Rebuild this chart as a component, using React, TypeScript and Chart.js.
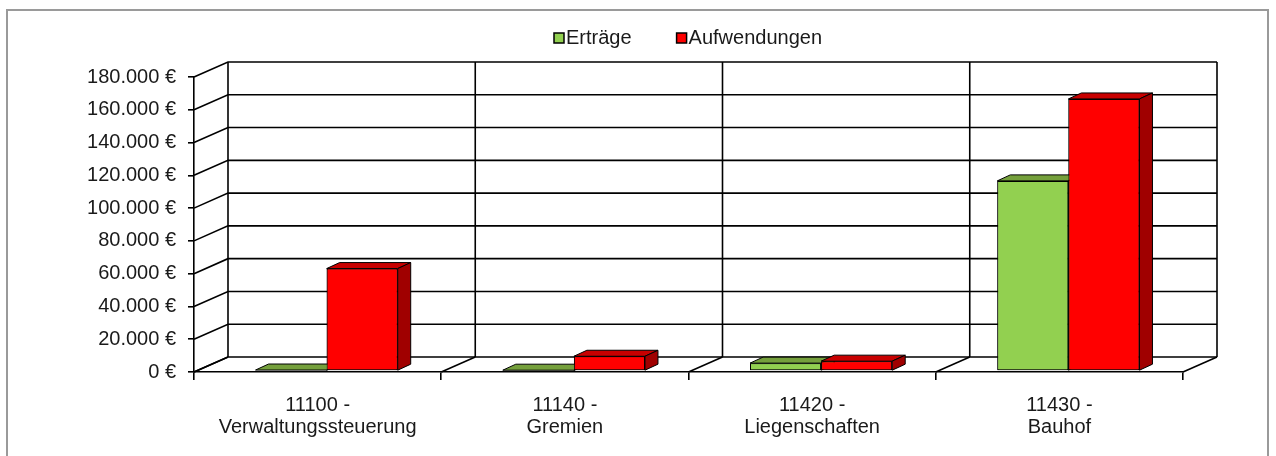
import React, { useEffect, useRef } from "react";
import { Chart, registerables } from "chart.js";

Chart.register(...registerables);

// ---- data ----
const categories: string[][] = [
  ["11100 -", "Verwaltungssteuerung"],
  ["11140 -", "Gremien"],
  ["11420 -", "Liegenschaften"],
  ["11430 -", "Bauhof"],
];
const seriesNames = ["Erträge", "Aufwendungen"];
const ertraege = [600, 300, 4800, 116000];
const aufwendungen = [62500, 9000, 6000, 166000];
const yMin = 0;
const yMax = 180000;
const yStep = 20000;

// ---- styles ----
const frontColors = ["#92D050", "#FF0000"];
const topColors = ["#75A03C", "#C80000"];
const sideColors = ["#5E8A2E", "#A00000"];
const FONT = "'Liberation Sans', Arial, sans-serif";
const WALL_DX = 34;
const WALL_DY = 15;
const BAR_DX = 13;
const BAR_DY = 6;
// bars sit slightly inside the 3D floor (depth position)
const BAR_SHIFT_X = 9;
const BAR_SHIFT_Y = -1;

const fmtEuro = (v: number) =>
  String(v).replace(/\B(?=(\d{3})+(?!\d))/g, ".") + " €";

const depthPlugin = {
  id: "depth3d",
  beforeDatasetsDraw(chart: any) {
    const { ctx, chartArea, scales } = chart;
    const { left, right, top, bottom } = chartArea;
    const x = scales.x;
    const y = scales.y;
    ctx.save();
    ctx.strokeStyle = "#000";
    ctx.lineWidth = 1.6;
    y.ticks.forEach((t: any) => {
      const py = y.getPixelForValue(t.value);
      ctx.beginPath();
      ctx.moveTo(left, py);
      ctx.lineTo(left + WALL_DX, py - WALL_DY);
      ctx.lineTo(right + WALL_DX, py - WALL_DY);
      ctx.stroke();
    });
    const n = categories.length;
    for (let i = 0; i <= n; i++) {
      const bx = x.getPixelForValue(i - 0.5);
      ctx.beginPath();
      ctx.moveTo(bx + WALL_DX, top - WALL_DY);
      ctx.lineTo(bx + WALL_DX, bottom - WALL_DY);
      ctx.stroke();
      ctx.beginPath();
      ctx.moveTo(bx, bottom);
      ctx.lineTo(bx + WALL_DX, bottom - WALL_DY);
      ctx.stroke();
    }
    ctx.restore();
    // place bars at their depth position
    ctx.save();
    ctx.translate(BAR_SHIFT_X, BAR_SHIFT_Y);
  },
  afterDatasetsDraw(chart: any) {
    const { ctx, chartArea } = chart;
    chart.data.datasets.forEach((_ds: any, idx: number) => {
      const meta = chart.getDatasetMeta(idx);
      meta.data.forEach((el: any) => {
        // redraw the front face so that series are layered left to right
        el.draw(ctx, chartArea);
        const p = el.getProps(["x", "y", "base", "width"], true);
        const l = p.x - p.width / 2;
        const r = p.x + p.width / 2;
        const t = Math.min(p.y, p.base);
        const b = Math.max(p.y, p.base);
        ctx.save();
        ctx.strokeStyle = "#000";
        ctx.lineWidth = 1;
        ctx.beginPath();
        ctx.moveTo(l, t);
        ctx.lineTo(l + BAR_DX, t - BAR_DY);
        ctx.lineTo(r + BAR_DX, t - BAR_DY);
        ctx.lineTo(r, t);
        ctx.closePath();
        ctx.fillStyle = topColors[idx];
        ctx.fill();
        ctx.stroke();
        ctx.beginPath();
        ctx.moveTo(r, t);
        ctx.lineTo(r + BAR_DX, t - BAR_DY);
        ctx.lineTo(r + BAR_DX, b - BAR_DY);
        ctx.lineTo(r, b);
        ctx.closePath();
        ctx.fillStyle = sideColors[idx];
        ctx.fill();
        ctx.stroke();
        ctx.restore();
      });
    });
    ctx.restore();
  },
  afterDraw(chart: any) {
    const { ctx } = chart;
    ctx.save();
    ctx.font = `20px ${FONT}`;
    ctx.textBaseline = "middle";
    ctx.textAlign = "left";
    let lx = 554;
    const ly = 38;
    chart.data.datasets.forEach((ds: any, i: number) => {
      ctx.fillStyle = frontColors[i];
      ctx.fillRect(lx, ly - 5, 10, 10);
      ctx.strokeStyle = "#000";
      ctx.lineWidth = 1.5;
      ctx.strokeRect(lx, ly - 5, 10, 10);
      ctx.fillStyle = "#1a1a1a";
      ctx.fillText(ds.label, lx + 12, ly);
      lx += 12 + ctx.measureText(ds.label).width + 45;
    });
    ctx.restore();
  },
};

export default function App() {
  const ref = useRef<HTMLCanvasElement | null>(null);

  useEffect(() => {
    document.body.style.margin = "0";
    document.body.style.overflow = "hidden";
    if (!ref.current) return;
    const chart = new Chart(ref.current, {
      type: "bar",
      data: {
        labels: categories,
        datasets: [
          {
            label: seriesNames[0],
            data: ertraege,
            backgroundColor: frontColors[0],
            borderColor: "#000",
            borderWidth: 1,
            borderSkipped: false,
            categoryPercentage: 0.575,
            barPercentage: 1.0,
          },
          {
            label: seriesNames[1],
            data: aufwendungen,
            backgroundColor: frontColors[1],
            borderColor: "#000",
            borderWidth: 1,
            borderSkipped: false,
            categoryPercentage: 0.575,
            barPercentage: 1.0,
          },
        ],
      },
      options: {
        responsive: false,
        animation: false,
        devicePixelRatio: 1,
        layout: { padding: { top: 77, right: 93, left: 0, bottom: 0 } },
        plugins: {
          legend: { display: false },
          tooltip: { enabled: false },
        },
        scales: {
          x: {
            offset: true,
            grid: {
              offset: true,
              drawOnChartArea: false,
              drawTicks: true,
              tickLength: 8,
              color: "#000",
              lineWidth: 1.6,
            },
            border: { display: true, color: "#000", width: 1.6 },
            ticks: {
              color: "#1a1a1a",
              padding: 14,
              maxRotation: 0,
              autoSkip: false,
              font: { family: FONT, size: 20, lineHeight: 1.1 },
            },
            afterFit(scale: any) {
              scale.height = 84;
            },
          },
          y: {
            min: yMin,
            max: yMax,
            grid: {
              drawOnChartArea: false,
              drawTicks: true,
              tickLength: 6,
              color: "#000",
              lineWidth: 1.6,
            },
            border: { display: true, color: "#000", width: 1.6 },
            ticks: {
              stepSize: yStep,
              color: "#1a1a1a",
              padding: 12,
              font: { family: FONT, size: 20 },
              callback: (v: any) => fmtEuro(Number(v)),
            },
            afterFit(scale: any) {
              scale.width = 194;
            },
          },
        },
      },
      plugins: [depthPlugin],
    });
    return () => chart.destroy();
  }, []);

  return (
    <div style={{ position: "relative", width: 1276, height: 456, overflow: "hidden", background: "#fff" }}>
      <div
        style={{
          position: "absolute",
          left: 6,
          top: 9,
          width: 1263,
          height: 470,
          border: "2px solid #9a9a9a",
          boxSizing: "border-box",
        }}
      />
      <canvas ref={ref} width={1276} height={456} style={{ position: "absolute", left: 0, top: 0, display: "block" }} />
    </div>
  );
}
